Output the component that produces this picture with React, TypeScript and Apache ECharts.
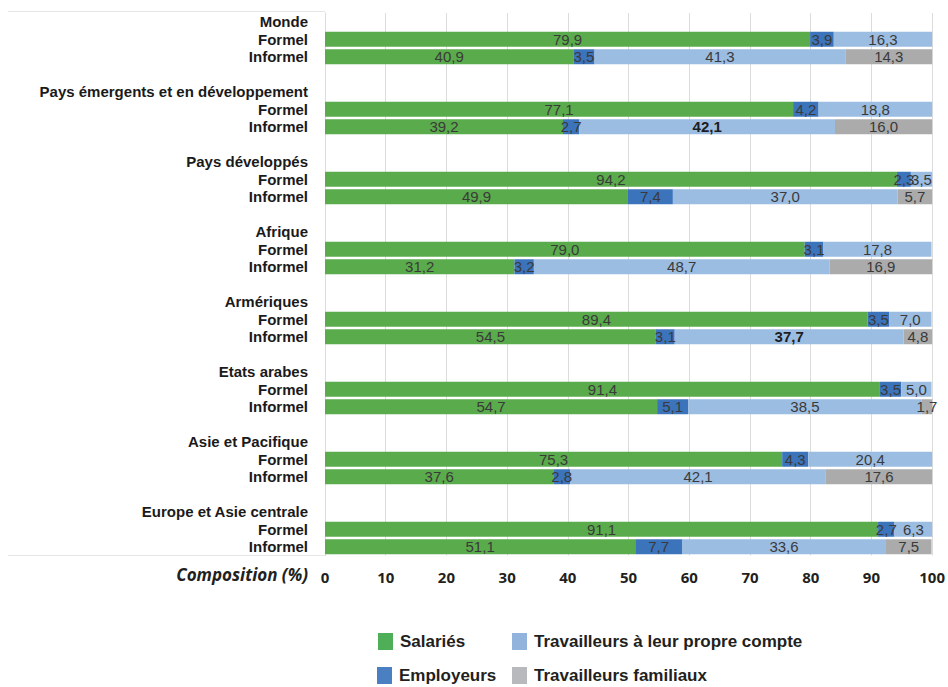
import React, { useEffect, useRef } from "react";
import * as echarts from "echarts";

const groups = [
  "Monde",
  "Pays émergents et en développement",
  "Pays développés",
  "Afrique",
  "Armériques",
  "Etats arabes",
  "Asie et Pacifique",
  "Europe et Asie centrale",
];
const subRows = ["Formel", "Informel"];

const seriesNames = [
  "Salariés",
  "Employeurs",
  "Travailleurs à leur propre compte",
  "Travailleurs familiaux",
];

// values per group: [Formel, Informel]
const salaries = [
  [79.9, 40.9], [77.1, 39.2], [94.2, 49.9], [79.0, 31.2],
  [89.4, 54.5], [91.4, 54.7], [75.3, 37.6], [91.1, 51.1],
];
const employeurs = [
  [3.9, 3.5], [4.2, 2.7], [2.3, 7.4], [3.1, 3.2],
  [3.5, 3.1], [3.5, 5.1], [4.3, 2.8], [2.7, 7.7],
];
const propreCompte = [
  [16.3, 41.3], [18.8, 42.1], [3.5, 37.0], [17.8, 48.7],
  [7.0, 37.7], [5.0, 38.5], [20.4, 42.1], [6.3, 33.6],
];
const familiaux = [
  [null, 14.3], [null, 16.0], [null, 5.7], [null, 16.9],
  [null, 4.8], [null, 1.7], [null, 17.6], [null, 7.5],
];
const seriesValues = [salaries, employeurs, propreCompte, familiaux];

// labels drawn in bold: [series index, group index, sub row index]
const boldLabels = [
  [2, 1, 1],
  [2, 4, 1],
];

const colors = ["#5aab4b", "#3b74bb", "#9cbde2", "#ababab"];
const legendColors = ["#4fae58", "#4a80c2", "#92b4dc", "#b8b9bd"];

const xTicks = [0, 10, 20, 30, 40, 50, 60, 70, 80, 90, 100];

export default function App() {
  const ref = useRef<HTMLDivElement>(null);
  useEffect(() => {
    if (!ref.current) return;
    const chart = echarts.init(ref.current, null, { renderer: "svg" });

    const rowKeys: string[] = [];
    const rowLabels: string[] = [];
    const rowRef: (null | [number, number])[] = [];
    groups.forEach((g, gi) => {
      rowKeys.push(`h${gi}`);
      rowLabels.push(g);
      rowRef.push(null);
      subRows.forEach((s, si) => {
        rowKeys.push(`r${gi}-${si}`);
        rowLabels.push(s);
        rowRef.push([gi, si]);
      });
      if (gi < groups.length - 1) {
        rowKeys.push(`b${gi}`);
        rowLabels.push("");
        rowRef.push(null);
      }
    });

    const fmt = (v: number) => v.toFixed(1).replace(".", ",");

    const series = seriesNames.map((name, k) => ({
      name,
      type: "bar",
      stack: "total",
      barWidth: 15,
      itemStyle: { color: colors[k] },
      label: {
        show: true,
        position: "inside",
        color: "#3a3a3a",
        fontFamily: "Liberation Sans, Arial, sans-serif",
        fontSize: 15,
        lineHeight: 15,
        formatter: (p: any) => {
          const v = Array.isArray(p.value) ? p.value[0] : p.value;
          return v == null || v === "-" ? "" : fmt(Number(v));
        },
      },
      data: rowRef.map((r) => {
        if (!r) return "-";
        const v = seriesValues[k][r[0]][r[1]];
        if (v == null) return "-";
        const isBold = boldLabels.some(
          (b) => b[0] === k && b[1] === r[0] && b[2] === r[1]
        );
        return isBold
          ? { value: v, label: { fontWeight: "bold", color: "#1e1e1e" } }
          : v;
      }),
    }));

    const legendPos = [
      [378, 633],
      [377, 667],
      [512, 633],
      [512, 667],
    ];

    chart.setOption({
      animation: false,
      color: colors,
      grid: { left: 325, right: 13, top: 13, bottom: 131.5, containLabel: false },
      xAxis: {
        type: "value",
        min: 0,
        max: 100,
        interval: 10,
        axisLine: { show: false },
        axisTick: { show: false },
        splitLine: { show: true, lineStyle: { color: "#dcdcdc", width: 1 } },
        axisLabel: {
          margin: 14,
          color: "#231f20",
          fontWeight: "bold",
          fontSize: 15,
          fontFamily: "Noto Sans, sans-serif",
          formatter: (v: number) => (xTicks.includes(v) ? String(v) : ""),
        },
      },
      yAxis: {
        type: "category",
        inverse: true,
        data: rowKeys,
        axisLine: { show: true, lineStyle: { color: "#dcdcdc" } },
        axisTick: { show: false },
        axisLabel: {
          interval: 0,
          margin: 17,
          color: "#1a1a1a",
          fontWeight: "bold",
          fontSize: 15,
          lineHeight: 16,
          fontFamily: "Liberation Sans, Arial, sans-serif",
          formatter: (v: string) => rowLabels[rowKeys.indexOf(v)] ?? "",
        },
      },
      legend: seriesNames.map((n, k) => ({
        data: [{ name: n, itemStyle: { color: legendColors[k] } }],
        left: legendPos[k][0],
        top: legendPos[k][1],
        padding: 0,
        itemWidth: 15,
        itemHeight: 17,
        icon: "rect",
        selectedMode: false,
        textStyle: {
          color: "#231f20",
          fontWeight: "bold",
          fontSize: 17,
          lineHeight: 17,
          fontFamily: "Liberation Sans, Arial, sans-serif",
          padding: [0, 0, 0, 2],
        },
      })),
      graphic: [
        {
          type: "text",
          right: 948 - 308,
          top: 566,
          style: {
            text: "Composition (%)",
            fill: "#231f20",
            font: "italic bold 17px 'Noto Sans', sans-serif",
            textAlign: "right",
          },
        },
        {
          type: "line",
          shape: { x1: 8, y1: 11.5, x2: 325, y2: 11.5 },
          style: { stroke: "#e6e6e6", lineWidth: 1 },
        },
        {
          type: "line",
          shape: { x1: 8, y1: 555.5, x2: 325, y2: 555.5 },
          style: { stroke: "#e6e6e6", lineWidth: 1 },
        },
      ],
      series,
    });
    return () => chart.dispose();
  }, []);
  return (
    <div
      ref={ref}
      style={{ position: "absolute", left: 0, top: 0, width: 948, height: 687 }}
    />
  );
}
